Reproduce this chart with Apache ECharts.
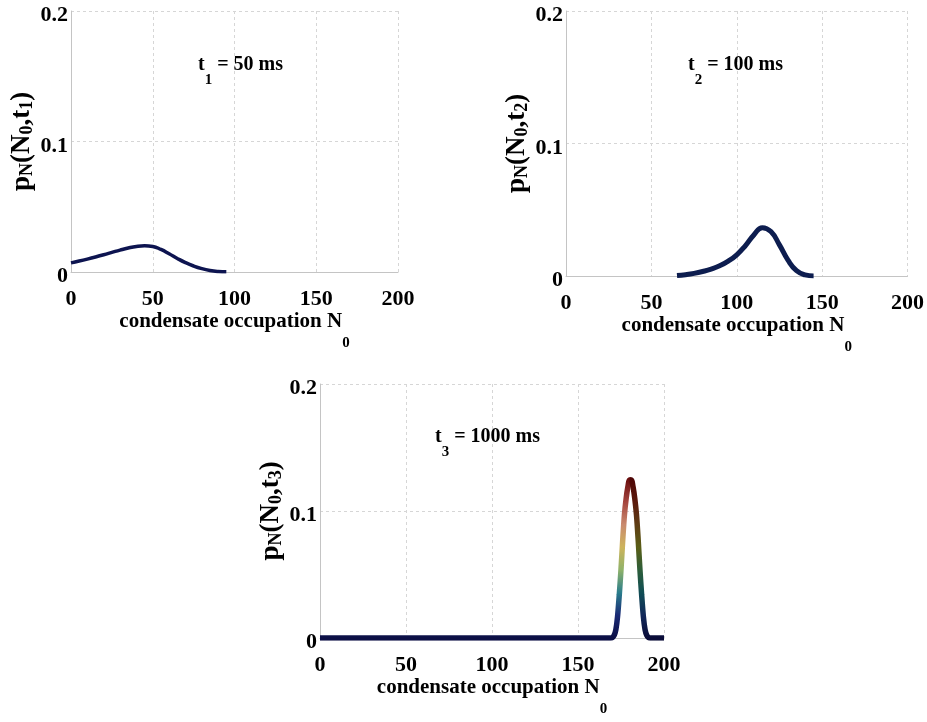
<!DOCTYPE html>
<html>
<head>
<meta charset="utf-8">
<script src="https://cdn.jsdelivr.net/npm/echarts@6/dist/echarts.min.js"></script>
<style>
html,body{margin:0;padding:0;background:#fff;}
#c{width:927px;height:722px;}
</style>
</head>
<body>
<div id="c"></div>
<script>
// tick values
const xTicks = [0, 50, 100, 150, 200];
const yTicks = [0, 0.1, 0.2];

// panel 1: t1 = 50 ms
const n1 = [0, 5, 10, 15, 20, 25, 30, 35, 40, 45, 50, 55, 60, 65, 70, 75, 80, 85, 90, 95];
const p1 = [0.0070, 0.0084, 0.0099, 0.0115, 0.0132, 0.0150, 0.0168, 0.0184, 0.0196, 0.0201,
            0.0196, 0.0173, 0.0140, 0.0104, 0.0072, 0.0046, 0.0026, 0.0012, 0.0004, 0.0001];

// panel 2: t2 = 100 ms
const n2 = [65, 70, 75, 80, 85, 90, 95, 100, 105, 110, 115, 120, 125, 130, 135, 140, 145];
const p2 = [0.0003, 0.0010, 0.0020, 0.0034, 0.0052, 0.0077, 0.0112, 0.0160, 0.0228, 0.0310,
            0.0365, 0.0335, 0.0235, 0.0120, 0.0040, 0.0008, 0.0000];

// panel 3: t3 = 1000 ms
const n3 = [0, 169, 170, 171, 172, 173, 174, 175, 176, 177, 178, 179, 180, 181, 182, 183, 184,
            185, 186, 187, 188, 189, 190, 191, 192, 200];
const p3 = [0, 0, 0.0003, 0.0020, 0.0065, 0.0170, 0.0340, 0.0540, 0.0770, 0.0970, 0.1100, 0.1190,
            0.1245, 0.1245, 0.1190, 0.1100, 0.0970, 0.0770, 0.0540, 0.0340, 0.0170, 0.0065,
            0.0020, 0.0003, 0, 0];

const FONT = 'Liberation Serif';
const pairs = (xs, ys) => xs.map((x, i) => [x, ys[i]]);
const left3 = pairs(n3, p3).filter(d => d[0] <= 181);
const right3 = pairs(n3, p3).filter(d => d[0] >= 180);

const grids = [
  {left: 71, top: 11, width: 327, height: 261},
  {left: 566, top: 11, width: 346, height: 265},
  {left: 320, top: 384, width: 344, height: 254}
];

function xAxis(i) {
  return {
    type: 'value', gridIndex: i, min: xTicks[0], max: xTicks[xTicks.length - 1],
    interval: xTicks[1] - xTicks[0],
    axisLine: {show: true, lineStyle: {color: '#c4c4c4', width: 1}},
    axisTick: {show: false},
    axisLabel: {fontFamily: FONT, fontWeight: 'bold', fontSize: 22, color: '#000', margin: 16},
    splitLine: {show: true, lineStyle: {color: '#d6d6d6', type: [3, 3], width: 1}},
    name: '{m|condensate occupation N}{s|0}',
    nameLocation: 'middle', nameGap: 17,
    nameTextStyle: {rich: {
      m: {fontFamily: FONT, fontWeight: 'bold', fontSize: 21, color: '#000', padding: [0, 0, 21, 0]},
      s: {fontFamily: FONT, fontWeight: 'bold', fontSize: 15, color: '#000', padding: [23, 0, 0, 0]}
    }}
  };
}
function yAxis(i, k) {
  return {
    type: 'value', gridIndex: i, min: yTicks[0], max: yTicks[yTicks.length - 1],
    interval: yTicks[1] - yTicks[0],
    axisLine: {show: true, lineStyle: {color: '#c4c4c4', width: 1}},
    axisTick: {show: false},
    axisLabel: {margin: 3, formatter: v => '{t|' + v + '}',
                rich: {t: {fontFamily: FONT, fontWeight: 'bold', fontSize: 22, color: '#000',
                           padding: [9, 0, 0, 0]}}},
    splitLine: {show: true, lineStyle: {color: '#d6d6d6', type: [3, 3], width: 1}},
    name: '{m|p}{s|N}{m|(N}{s|0}{m|,t}{s|' + k + '}{m|)}',
    nameLocation: 'middle', nameRotate: 90, nameGap: 33,
    nameTextStyle: {rich: {
      m: {fontFamily: FONT, fontWeight: 'bold', fontSize: 27, color: '#000'},
      s: {fontFamily: FONT, fontWeight: 'bold', fontSize: 18, color: '#000', padding: [12, 0, 0, 0]}
    }}
  };
}

const titleRich = {
  m: {fontFamily: FONT, fontWeight: 'bold', fontSize: 20, color: '#000'},
  s: {fontFamily: FONT, fontWeight: 'bold', fontSize: 15, color: '#000', padding: [31, 0, 0, 0]}
};

const option = {
  animation: false,
  backgroundColor: '#fff',
  title: [
    {text: '{m|t}{s|1}{m| = 50 ms}', left: 193, top: 37, textStyle: {rich: titleRich}},
    {text: '{m|t}{s|2}{m| = 100 ms}', left: 683, top: 37, textStyle: {rich: titleRich}},
    {text: '{m|t}{s|3}{m| = 1000 ms}', left: 430, top: 409, textStyle: {rich: titleRich}}
  ],
  grid: grids,
  xAxis: [xAxis(0), xAxis(1), xAxis(2)],
  yAxis: [yAxis(0, 1), yAxis(1, 2), yAxis(2, 3)],
  visualMap: [
    {show: false, type: 'continuous', seriesIndex: 2, dimension: 1, min: 0, max: 0.125,
     inRange: {color: ['#0c0f45', '#1a2a75', '#2a7d8c', '#8fb26a', '#cdb45c', '#c98a6e', '#a5453e', '#6a0d0d']}},
    {show: false, type: 'continuous', seriesIndex: 3, dimension: 1, min: 0, max: 0.125,
     inRange: {color: ['#0a0c38', '#12285a', '#104e55', '#2d5e3a', '#5a5e16', '#5e3d14', '#5c1a0c', '#4e0606']}}
  ],
  series: [
    {type: 'line', xAxisIndex: 0, yAxisIndex: 0, data: pairs(n1, p1), smooth: true, symbol: 'none',
     lineStyle: {color: '#0d1450', width: 3.5}},
    {type: 'line', xAxisIndex: 1, yAxisIndex: 1, data: pairs(n2, p2), smooth: true, symbol: 'none',
     lineStyle: {color: '#0d1d4f', width: 5}},
    {type: 'line', xAxisIndex: 2, yAxisIndex: 2, data: left3, smooth: 0.3, symbol: 'none',
     lineStyle: {width: 5.5}},
    {type: 'line', xAxisIndex: 2, yAxisIndex: 2, data: right3, smooth: 0.3, symbol: 'none',
     lineStyle: {width: 5.5}}
  ]
};

const chart = echarts.init(document.getElementById('c'), null, {renderer: 'canvas'});
chart.setOption(option);
</script>
</body>
</html>
